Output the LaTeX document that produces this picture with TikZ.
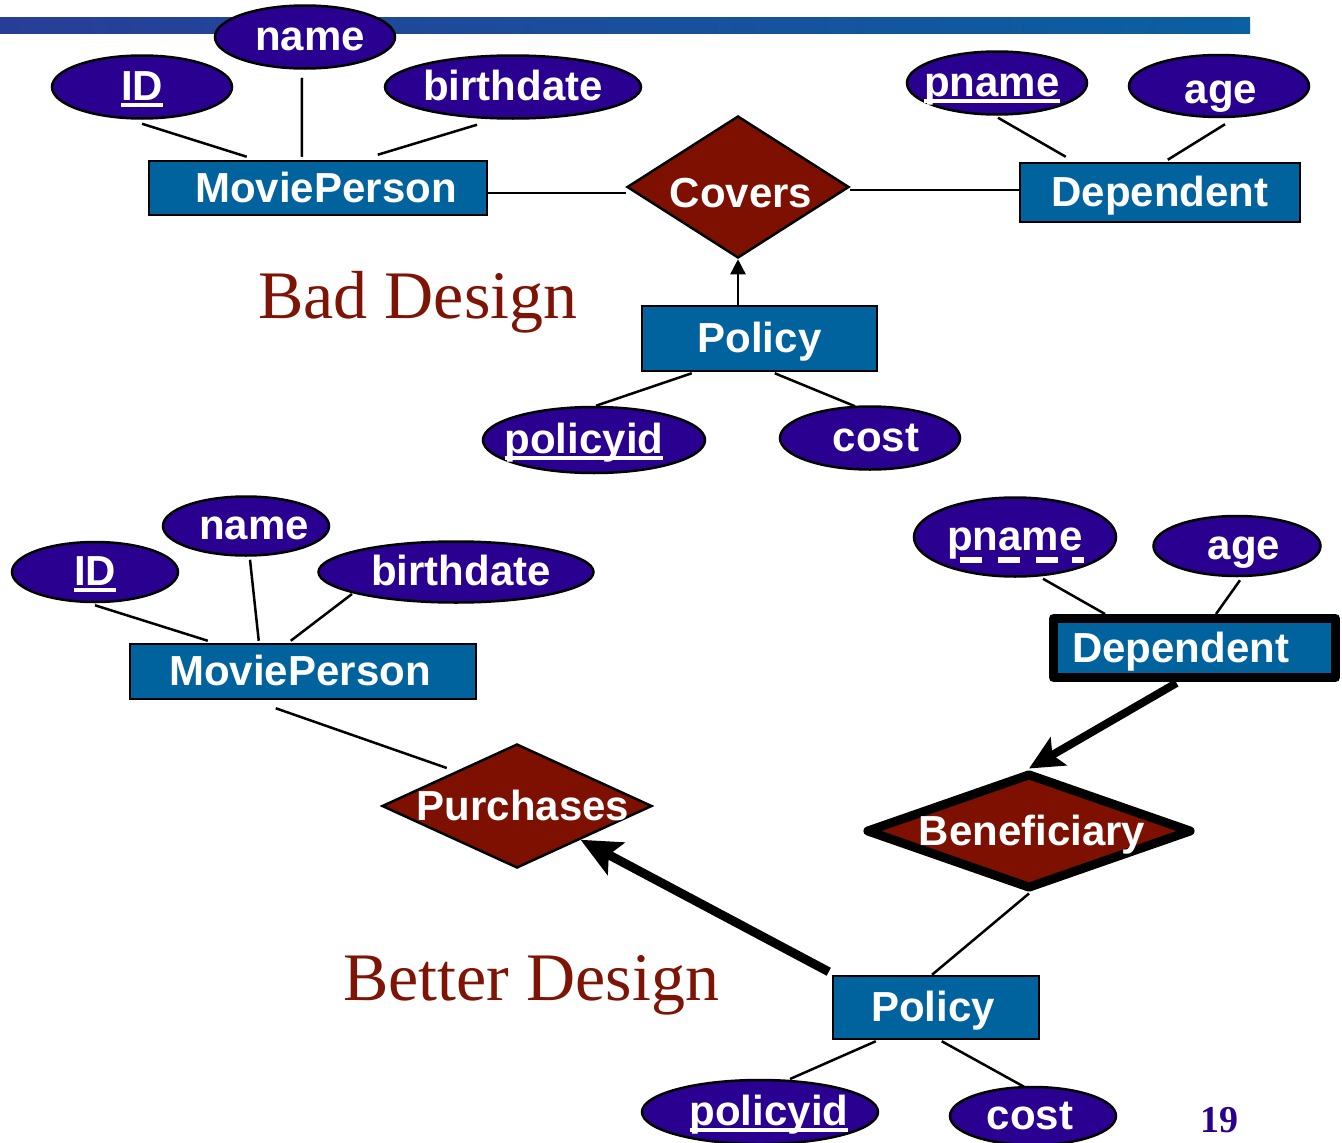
\documentclass[tikz,border=0pt]{standalone}
\usepackage{fontspec}
\usetikzlibrary{arrows.meta,shapes.geometric,calc}

\newfontfamily\labfamily{Liberation Sans}
\newfontfamily\seriffamily{Liberation Serif}
\newcommand\labfont{\labfamily\bfseries\fontsize{42pt}{42pt}\selectfont}
\newcommand\titlefont{\seriffamily\fontsize{68pt}{68pt}\selectfont}

\definecolor{attrfill}{RGB}{42,0,145}
\definecolor{entfill}{RGB}{0,99,158}
\definecolor{relfill}{RGB}{125,16,0}
\definecolor{titlered}{RGB}{125,20,5}
\definecolor{barleft}{RGB}{40,62,150}
\definecolor{barright}{RGB}{10,96,160}

% solid key underline
\newsavebox\ulbox
\newcommand\keyul[1]{\sbox\ulbox{#1}\rlap{\rule[-7pt]{\wd\ulbox}{4pt}}\usebox\ulbox}
% dashed (partial key) underline
\newcommand\dashedbar{\rlap{\kern13pt\rule[-13pt]{22pt}{6pt}\kern16pt\rule[-13pt]{22pt}{6pt}\kern16pt\rule[-13pt]{22pt}{6pt}\kern14pt\rule[-13pt]{12pt}{6pt}}}
% nudge a label sideways without enlarging its shape
\newcommand\nudgeR[2]{#2\kern-#1}
\newcommand\nudgeL[2]{\kern-#1#2}

\begin{document}
\begin{tikzpicture}[x=1pt,y=-1pt,
  attr/.style={ellipse, draw=black, line width=2.5pt, fill=attrfill, text=white,
    font=\labfont, inner sep=0pt, text height=30pt, text depth=4pt},
  ent/.style={rectangle, draw=black, line width=2.5pt, fill=entfill, text=white,
    font=\labfont, inner sep=0pt, text height=30pt, text depth=2pt},
  rel/.style={diamond, draw=black, line width=2.5pt, fill=relfill, text=white,
    font=\labfont, inner sep=-14pt, text height=30pt, text depth=2pt},
  weak/.style={line width=9pt, line join=round},
  link/.style={draw=black, line width=2.5pt},
  bigarrow/.style={draw=black, line width=9pt, -{Stealth[length=40pt,width=36pt,inset=8pt]}},
  title/.style={anchor=base west, inner sep=0pt, text=titlered, font=\titlefont}]

\useasboundingbox (0,0) rectangle (1342,1143);

% header bar
\shade[left color=barleft, right color=barright] (0,17) rectangle (1250,33);

% ---------- first design ----------
\node[attr, minimum width=180pt, minimum height=63pt] (id1) at (142,87) {\keyul{ID}};
\node[attr, minimum width=180pt, minimum height=63pt] (nm1) at (305,37) {\nudgeR{10pt}{name}};
\node[attr, minimum width=256pt, minimum height=63pt] (bd1) at (513,87) {birthdate};
\node[ent, minimum width=338pt, minimum height=54pt] (mp1) at (318,188) {\nudgeR{16pt}{MoviePerson}};
\node[rel, aspect=1.55, text height=42pt, minimum width=222pt, minimum height=142pt] (cov) at (738,187) {\nudgeR{6pt}{Covers}};
\node[ent, minimum width=280pt, minimum height=59pt] (dep1) at (1160,192.5) {Dependent};
\node[attr, minimum width=180pt, minimum height=63pt] (pn1) at (997,83) {\nudgeL{10pt}{\keyul{pname}}};
\node[attr, minimum width=180pt, minimum height=62pt, text height=38pt] (ag1) at (1219,86) {\nudgeR{4pt}{age}};
\node[ent, minimum width=235pt, minimum height=65pt] (pol1) at (759.5,338.5) {Policy};
\node[attr, minimum width=222pt, minimum height=66pt] (pi1) at (594,440) {\nudgeL{20pt}{\keyul{policyid}}};
\node[attr, minimum width=180pt, minimum height=63pt] (co1) at (870,438) {\nudgeR{12pt}{cost}};
\node[title] (bad) at (258,318) {Bad Design};

\draw[link] ($(id1.south)+(0,4)$) -- ($(mp1.north west)+(99,-3)$);
\draw[link] ($(nm1.south)+(-3,8)$) -- ($(mp1.north west)+(154,-3)$);
\draw[link] ($(bd1.south)+(-36,5)$) -- ($(mp1.north west)+(230,-5)$);
\draw[link] ($(mp1.east)+(0,5)$) -- ($(cov.west)+(0,6)$);
\draw[link] ($(cov.east)+(0,3)$) -- ($(cov.east -| dep1.west)+(0,3)$);
\draw[link] ($(pn1.south)+(1,2)$) -- ($(dep1.north west)+(47,-5)$);
\draw[link] ($(ag1.south)+(6,6)$) -- ($(dep1.north west)+(149,-2)$);
\draw[link, -{Triangle[length=15pt,width=15pt]}] (cov.south |- pol1.north) -- (cov.south);
\draw[link] ($(pol1.south west)+(51,1)$) -- ($(pi1.north)+(2,0)$);
\draw[link] ($(pol1.south west)+(134,1)$) -- ($(co1.north)+(-15,1)$);

% ---------- second design ----------
\node[attr, minimum width=166pt, minimum height=60pt] (id2) at (95,572) {\keyul{ID}};
\node[attr, minimum width=166pt, minimum height=59pt] (nm2) at (246,526) {\nudgeR{16pt}{name}};
\node[attr, minimum width=275pt, minimum height=61pt] (bd2) at (456,572) {\nudgeR{10pt}{birthdate}};
\node[ent, minimum width=346pt, minimum height=55pt] (mp2) at (303,671.5) {\nudgeL{6pt}{MoviePerson}};
\node[rel, aspect=2.2, minimum width=270pt, minimum height=124pt] (purch) at (517,806) {\nudgeR{12pt}{Purchases}};
\node[ent, weak, minimum width=282pt, minimum height=59pt] (dep2) at (1194.5,648) {\nudgeL{28pt}{Dependent}};
\node[attr, minimum width=202pt, minimum height=79pt] (pn2) at (1015,537) {\dashedbar pname};
\node[attr, minimum width=167pt, minimum height=60pt] (ag2) at (1237,546) {\nudgeR{14pt}{age}};
\node[rel, weak, aspect=2.8, minimum width=326pt, minimum height=116pt] (ben) at (1029,831) {\nudgeR{6pt}{Beneficiary}};
\node[ent, minimum width=206pt, minimum height=63pt] (pol2) at (936,1007.5) {\nudgeL{6pt}{Policy}};
\node[attr, minimum width=236pt, minimum height=64pt] (pi2) at (760,1112) {\nudgeR{18pt}{\keyul{policyid}}};
\node[attr, minimum width=166pt, minimum height=58pt] (co2) at (1033,1116) {\nudgeL{6pt}{cost}};
\node[title] (better) at (343,1000) {Better Design};

\draw[link] ($(id2.south)+(0,2)$) -- ($(mp2.north west)+(79,-2)$);
\draw[link] ($(nm2.south)+(4,3)$) -- ($(mp2.north west)+(130,-2)$);
\draw[link] ($(bd2.center)+(-104,22)$) -- ($(mp2.north west)+(162,-2)$);
\draw[link] ($(mp2.south west)+(147,8)$) -- ($(purch.west)+(66,-38)$);
\draw[link] ($(pn2.south)+(28,1)$) -- ($(dep2.center)+(-89.5,-34)$);
\draw[link] ($(ag2.south)+(3,3)$) -- ($(dep2.center)+(21.5,-34)$);
\draw[bigarrow, -{Stealth[length=34pt,width=32pt,inset=7pt]}, line width=8pt]
  ($(dep2.center)+(-18,35)$) -- (ben.north);
\draw[link] (ben.south) -- ($(pol2.north)+(-4,0)$);
\draw[bigarrow] ($(pol2.north west)+(-3,-3)$) -- (purch);
\draw[link] ($(pol2.south west)+(44,1)$) -- ($(pi2.center)+(30,-33)$);
\draw[link] ($(pol2.south west)+(110,1)$) -- ($(co2.north)+(-9,1)$);

% page number
\node[anchor=base west, inner sep=0pt, text=attrfill,
  font=\seriffamily\bfseries\fontsize{38pt}{38pt}\selectfont] (pg) at (1200,1132) {19};
\end{tikzpicture}
\end{document}
